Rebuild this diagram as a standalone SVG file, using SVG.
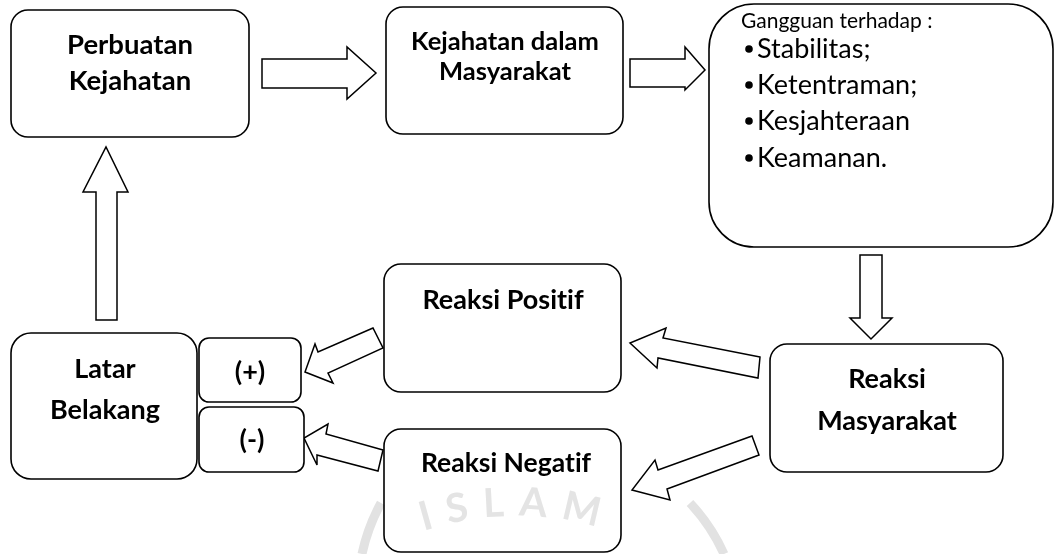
<svg xmlns="http://www.w3.org/2000/svg" width="1054" height="554" viewBox="0 0 1054 554">
<style>
.box{fill:#fff;stroke:#000;stroke-width:1.6}
.arr{fill:#fff;stroke:#000;stroke-width:1.5;stroke-linejoin:miter}
text{font-variant-ligatures:none;font-feature-settings:"liga" 0}
.b{font-family:Lato,"Open Sans",sans-serif;font-weight:700;fill:#000;text-anchor:middle}
.r{font-family:Lato,"Open Sans",sans-serif;font-weight:400;fill:#000}
.wm{fill:none;stroke:#e2e2e2;stroke-width:9}
.wmt{font-family:Lato,"Open Sans",sans-serif;font-weight:700;fill:#e4e4e4;font-size:40px}
</style>
<defs>
<path id="wmArc" d="M 217 816 A 300 300 0 0 1 817 816"/>
</defs>
<rect width="1054" height="554" fill="#fff"/>
<g id="connectors">
<polygon class="arr" points="262,59 347,59 347,47 376,73 347,99 347,88 262,88"/>
<polygon class="arr" points="630,59 685,59 685,47 705,70 685,90 685,87 630,87"/>
<polygon class="arr" points="860,255 882,255 882,318 892,318 871,339 850,318 860,318"/>
<polygon class="arr" points="760,357 663,338 666,328 630,343 657,368 658,358 758,378"/>
<polygon class="arr" points="752,436 658,470 655,460 632,490 670,500 667,489 759,455"/>
<polygon class="arr" points="373,328 318,352 315,344 305,372 333,383 328,373 383,348"/>
<polygon class="arr" points="383,450 326,434 328,424 304,438 317,465 317,455 378,471"/>
<polygon class="arr" points="96,320 96,192 83,192 106,147 128,192 117,192 117,320"/>
</g>
<g id="perbuatan">
<rect class="box" x="11" y="10" width="238" height="127" rx="17"/>
<text class="b" font-size="27.5" x="130" y="54">Perbuatan</text>
<text class="b" font-size="27.5" x="130" y="90">Kejahatan</text>
</g>
<g id="kejahatan-masyarakat">
<rect class="box" x="386" y="7" width="237" height="127" rx="17"/>
<text class="b" font-size="25.5" x="505" y="50">Kejahatan dalam</text>
<text class="b" font-size="25.5" x="505" y="80">Masyarakat</text>
</g>
<g id="gangguan">
<rect class="box" x="709" y="4" width="344" height="243" rx="45"/>
<text class="r" font-size="21" x="741" y="28">Gangguan terhadap :</text>
<circle cx="749" cy="49" r="3.8"/>
<circle cx="749" cy="85" r="3.8"/>
<circle cx="749" cy="121" r="3.8"/>
<circle cx="749" cy="158" r="3.8"/>
<text class="r" font-size="27" x="757" y="58">Stabilitas;</text>
<text class="r" font-size="27" x="757" y="94">Ketentraman;</text>
<text class="r" font-size="27" x="757" y="130">Kesjahteraan</text>
<text class="r" font-size="27" x="757" y="167">Keamanan.</text>
</g>
<g id="reaksi-masyarakat">
<rect class="box" x="770" y="344" width="233" height="128" rx="17"/>
<text class="b" font-size="27" x="887" y="388">Reaksi</text>
<text class="b" font-size="27" x="887" y="430">Masyarakat</text>
</g>
<g id="reaksi-positif">
<rect class="box" x="384" y="264" width="237" height="128" rx="17"/>
<text class="b" font-size="27" x="503" y="309">Reaksi Positif</text>
</g>
<g id="reaksi-negatif">
<rect class="box" x="384" y="429" width="237" height="123" rx="17"/>
<text class="b" font-size="26.5" x="506" y="472">Reaksi Negatif</text>
</g>
<g id="latar-belakang">
<rect class="box" x="11" y="333" width="186" height="146" rx="20"/>
<text class="b" font-size="27" x="105" y="378">Latar</text>
<text class="b" font-size="27" x="105" y="419">Belakang</text>
</g>
<g id="plus">
<rect class="box" x="199" y="338" width="102" height="64" rx="10"/>
<text class="b" font-size="27" x="250" y="381">(+)</text>
</g>
<g id="minus">
<rect class="box" x="199" y="407" width="105" height="65" rx="10"/>
<text class="b" font-size="27" x="252" y="449">(-)</text>
</g>
<g id="watermark" style="mix-blend-mode:multiply">
<path class="wm" d="M 362 554 A 186 186 0 0 1 381 503"/>
<path class="wm" d="M 690 503 A 186 186 0 0 1 724 554"/>
<text class="wmt" letter-spacing="14"><textPath href="#wmArc" startOffset="50%" text-anchor="middle">ISLAM</textPath></text>
</g>
</svg>
